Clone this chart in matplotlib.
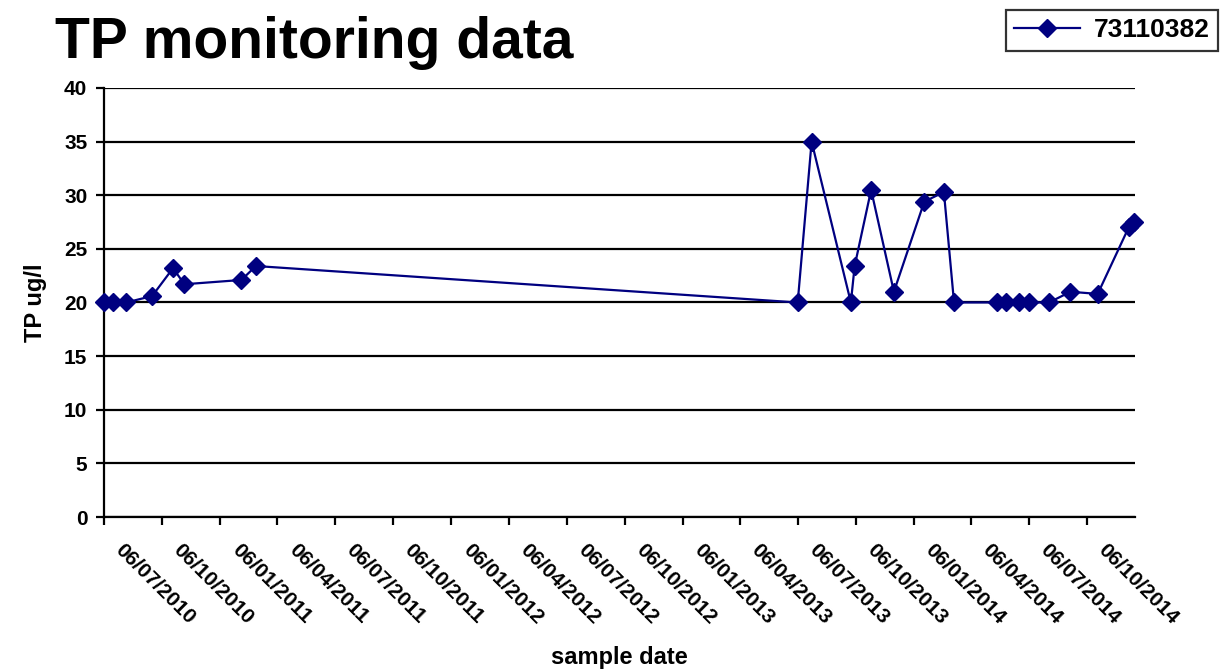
import matplotlib
matplotlib.use("Agg")
import matplotlib.pyplot as plt
import pandas as pd

plt.rcParams['font.family'] = ['Liberation Sans', 'DejaVu Sans']

# sample dates and TP values
sample_dates = [
    "2010-07-06", "2010-07-20", "2010-08-10", "2010-09-20", "2010-10-23",
    "2010-11-10", "2011-02-08", "2011-03-03",
    "2013-07-06", "2013-07-28", "2013-09-28", "2013-10-04", "2013-10-30",
    "2013-12-05", "2014-01-22", "2014-02-22", "2014-03-10", "2014-05-17",
    "2014-05-31", "2014-06-21", "2014-07-06", "2014-08-07", "2014-09-10",
    "2014-10-23", "2014-12-11", "2014-12-19",
]
tp_values = [
    20, 20, 20, 20.6, 23.2,
    21.7, 22.1, 23.4,
    20, 35, 20, 23.4, 30.5,
    21.0, 29.4, 30.3, 20, 20,
    20, 20, 20, 20, 21.0,
    20.8, 27.0, 27.5,
]
tick_dates = pd.date_range("2010-07-01", periods=18, freq="3MS") + pd.Timedelta(days=5)
tick_labels = [d.strftime("%d/%m/%Y") for d in tick_dates]
y_ticks = [0, 5, 10, 15, 20, 25, 30, 35, 40]
series_name = "73110382"

dates = pd.to_datetime(sample_dates)

fig = plt.figure(figsize=(12.21, 6.69), dpi=100)
ax = fig.add_axes([0.0852, 0.2272, 0.8444, 0.6413])

line, = ax.plot(dates, tp_values, color="#000080", lw=1.6, marker="D", ms=9,
                markeredgecolor="#000080", label=series_name, clip_on=False, zorder=3)

ax.set_xlim(pd.Timestamp("2010-07-06"), pd.Timestamp("2014-12-21"))
ax.set_ylim(0, 40)
ax.set_yticks(y_ticks)
ax.set_xticks(tick_dates)
ax.tick_params(axis="x", labelbottom=False)
# slanted date labels, sitting a little right of their ticks like Excel does
for d, txt in zip(tick_dates, tick_labels):
    ax.annotate(txt, xy=(d, 0), xycoords=("data", "axes fraction"),
                xytext=(15, -17), textcoords="offset points",
                rotation=-45, rotation_mode="anchor", ha="left", va="top",
                fontsize=15, fontweight="bold", annotation_clip=False)
for lab in ax.get_yticklabels():
    lab.set_fontsize(15)
    lab.set_fontweight("bold")

ax.grid(axis="y", color="black", lw=1.6)
ax.set_axisbelow(True)
for s in ["top", "right"]:
    ax.spines[s].set_visible(False)
for s in ["left", "bottom"]:
    ax.spines[s].set_linewidth(1.6)
ax.tick_params(axis="both", direction="out", length=6, width=1.6)
ax.tick_params(axis="y", pad=6)

ax.set_xlabel("sample date", fontsize=17, fontweight="bold")
ax.xaxis.set_label_coords(0.5, -0.30)
ax.set_ylabel("TP ug/l", fontsize=17, fontweight="bold", labelpad=12)

fig.text(0.045, 0.913, "TP monitoring data", fontsize=41, fontweight="bold")

leg = fig.legend(handles=[line], loc="upper right", bbox_to_anchor=(0.9975, 0.985),
                 frameon=True, fancybox=False, edgecolor="black",
                 prop={"size": 19, "weight": "bold"}, handlelength=2.5,
                 borderpad=0.32, handletextpad=0.5, borderaxespad=0)
leg.get_frame().set_linewidth(1.6)

fig.savefig("out.png", dpi=100)
